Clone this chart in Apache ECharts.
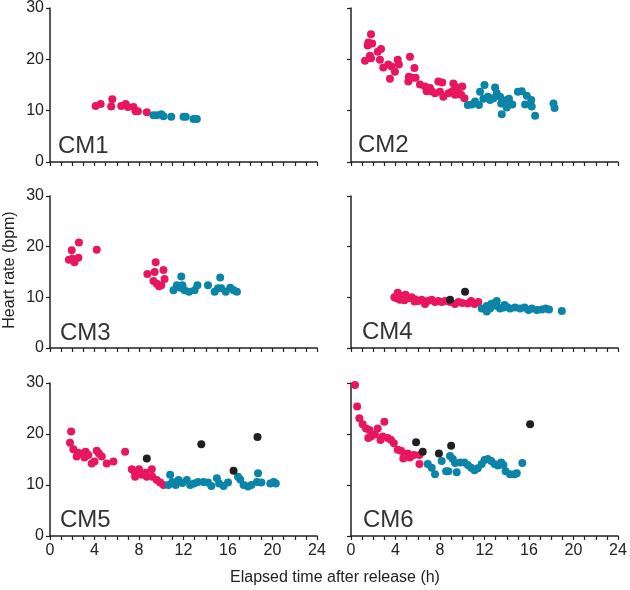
<!DOCTYPE html>
<html>
<head>
<meta charset="utf-8">
<script src="https://cdn.jsdelivr.net/npm/echarts@6/dist/echarts.min.js"></script>
<style>html,body{margin:0;padding:0;background:#fff}#c{width:630px;height:590px}</style>
</head>
<body>
<div id="c"></div>
<script>
// ---------- data ----------
var panelNames = ['CM1', 'CM2', 'CM3', 'CM4', 'CM5', 'CM6'];
var xTicks = [0, 4, 8, 12, 16, 20, 24];
var yTicks = [0, 10, 20, 30];
var xTitle = 'Elapsed time after release (h)';
var yTitle = 'Heart rate (bpm)';

var cm1Pink = [[4.1,10.9],[4.55,11.3],[5.6,12.2],[5.5,10.8],[6.4,10.9],[6.8,11.3],[7.0,10.7],[7.5,10.7],[7.7,9.9],[7.9,9.9],[8.7,9.7]];
var cm1Blue = [[9.3,9.1],[9.6,9.1],[10.0,9.3],[10.2,8.9],[10.9,8.8],[12.0,8.8],[12.2,8.8],[12.9,8.4],[13.2,8.4]];
var cm1Black = [];

var cm2Pink = [[1.8,24.9],[1.56,23.3],[1.9,23.1],[1.5,22.7],[2.7,22.0],[2.4,21.5],[1.7,20.7],[1.26,19.7],[1.8,20.2],[2.6,19.9],[2.9,18.4],[3.35,19.0],[3.65,18.6],[4.2,19.9],[4.3,19.0],[3.95,17.6],[3.5,16.2],[5.3,20.5],[5.7,18.3],[5.2,16.6],[5.5,16.4],[5.8,16.4],[5.15,15.7],[6.2,15.1],[6.65,14.7],[6.8,13.8],[7.25,13.8],[7.85,15.7],[8.2,15.5],[7.55,13.4],[8.0,13.7],[8.3,12.7],[8.75,13.4],[9.2,15.3],[9.35,14.7],[9.65,14.4],[10.0,14.7],[9.05,13.7],[9.35,13.1],[9.9,13.1],[10.2,12.4],[7.1,14.4]];
var cm2Blue = [[10.5,11.1],[10.85,11.2],[11.15,11.8],[11.5,11.1],[11.6,13.7],[12.0,15.0],[11.9,12.3],[12.3,12.7],[12.5,12.1],[12.95,14.5],[13.1,13.4],[12.8,12.4],[13.4,12.7],[13.5,11.4],[14.0,12.1],[14.2,12.3],[13.55,9.3],[14.0,10.6],[14.5,11.2],[15.0,13.7],[15.35,13.8],[15.8,12.9],[15.65,11.2],[16.2,12.1],[16.25,10.8],[16.55,9.0],[18.2,11.4],[18.3,10.5]];
var cm2Black = [];

var cm3Pink = [[1.7,17.4],[2.0,17.6],[2.2,16.9],[2.55,17.8],[1.95,19.3],[2.6,20.8],[4.2,19.4],[8.75,14.6],[9.4,15.0],[9.5,16.9],[10.2,15.4],[9.3,13.2],[9.8,12.2],[10.3,13.6],[9.6,12.7],[10.0,12.4]];
var cm3Blue = [[11.1,11.4],[11.4,12.4],[11.8,14.1],[11.9,12.4],[12.1,11.4],[12.5,11.1],[13.0,11.4],[13.25,12.4],[14.2,12.4],[14.8,11.1],[15.3,13.9],[15.1,11.8],[15.4,11.8],[15.8,11.1],[16.2,11.9],[16.5,11.4],[16.8,11.1],[11.7,11.9]];
var cm3Black = [];

var cm4Pink = [[3.9,10.0],[4.2,10.9],[4.1,9.8],[4.4,9.5],[4.55,10.3],[4.8,9.4],[4.9,10.5],[5.15,9.8],[5.45,10.0],[5.7,9.2],[5.75,9.6],[6.05,9.3],[6.35,9.5],[6.65,8.7],[6.9,9.3],[7.25,9.5],[7.55,9.1],[7.85,9.3],[8.15,9.1],[8.45,9.3],[8.9,9.1],[9.35,8.7],[9.65,9.1],[10.0,8.9],[10.5,8.8],[10.8,9.3],[11.1,8.7],[11.45,9.1]];
var cm4Blue = [[11.75,7.8],[12.2,7.2],[12.2,8.3],[12.5,7.8],[12.6,8.7],[12.9,8.9],[13.1,9.3],[13.1,8.3],[13.4,7.8],[13.7,8.0],[13.8,8.5],[14.0,8.1],[14.3,7.8],[14.75,8.0],[15.2,7.8],[15.6,8.0],[15.95,7.5],[16.25,7.8],[16.7,7.5],[17.15,7.6],[17.5,7.8],[17.8,7.6],[18.95,7.3]];
var cm4Black = [[8.9,9.5],[10.25,11.1]];

var cm5Pink = [[1.9,20.5],[1.8,18.3],[2.1,17.0],[2.5,16.3],[2.4,15.6],[2.85,16.2],[3.2,16.5],[3.1,15.4],[3.45,15.9],[3.75,14.2],[4.0,14.6],[4.2,16.7],[4.4,16.2],[4.65,15.6],[5.1,14.2],[5.7,14.6],[6.75,16.5],[7.35,13.1],[7.65,12.3],[8.0,13.1],[7.65,11.6],[8.25,12.0],[8.6,12.4],[8.7,11.6],[9.15,13.1],[9.2,11.6],[9.6,11.0],[9.9,10.5],[10.2,10.0]];
var cm5Blue = [[10.8,12.0],[10.65,10.0],[11.0,10.6],[11.3,10.0],[11.55,11.0],[11.9,10.4],[12.3,11.0],[12.6,10.0],[12.95,10.3],[13.3,10.6],[13.8,10.6],[14.2,10.5],[14.5,9.8],[15.0,11.3],[15.2,10.3],[15.6,9.8],[16.0,10.5],[16.9,11.6],[17.1,11.1],[17.4,10.0],[17.8,9.7],[18.1,10.0],[18.6,10.6],[18.7,12.3],[19.0,10.5],[19.8,10.3],[20.1,10.6],[20.3,10.3]];
var cm5Black = [[8.7,15.2],[13.6,18.0],[16.5,12.8],[18.65,19.4]];

var cm6Pink = [[0.36,29.6],[0.55,25.4],[0.75,23.1],[1.05,21.9],[1.35,21.1],[1.65,20.8],[1.8,19.5],[1.55,19.2],[2.15,19.9],[2.4,21.1],[3.0,22.4],[2.65,18.8],[2.85,19.5],[3.3,19.2],[3.6,18.8],[3.85,18.2],[4.2,16.9],[4.5,16.7],[4.8,15.9],[5.1,16.2],[5.3,15.4],[5.65,15.9],[6.15,15.9],[6.15,14.1],[4.7,15.2]];
var cm6Blue = [[6.9,14.1],[7.25,13.4],[7.55,12.1],[8.15,14.7],[8.55,12.7],[8.75,12.7],[8.9,15.7],[9.15,15.1],[9.35,14.3],[9.5,12.5],[9.8,14.4],[10.2,14.4],[10.5,13.9],[10.8,13.4],[11.1,12.9],[11.4,13.3],[11.75,14.1],[12.0,14.9],[12.3,15.1],[12.6,14.7],[12.9,14.1],[13.2,13.8],[13.5,14.4],[13.7,13.9],[13.9,12.7],[14.3,12.1],[14.7,12.1],[14.9,12.3],[15.4,14.3]];
var cm6Black = [[5.85,18.4],[6.45,16.5],[7.9,16.2],[9.0,17.7],[16.1,21.9]];

var pinkSets = [cm1Pink, cm2Pink, cm3Pink, cm4Pink, cm5Pink, cm6Pink];
var blueSets = [cm1Blue, cm2Blue, cm3Blue, cm4Blue, cm5Blue, cm6Blue];
var blackSets = [cm1Black, cm2Black, cm3Black, cm4Black, cm5Black, cm6Black];

// ---------- layout ----------
var FONT = 'Liberation Sans, Arial, sans-serif';
var INK = '#222222';
var colLeft = [50, 351];
var rowTop = [8, 196, 383];
var rowH = [154, 152, 153];
var W = 267;
var labelPos = [[58,146],[358,145],[60,333],[362,332],[60,520],[363,520]];

var grids = [], xAxes = [], yAxes = [], series = [], graphics = [];
for (var i = 0; i < 6; i++) {
  var r = Math.floor(i / 2), c = i % 2;
  grids.push({left: colLeft[c], top: rowTop[r], width: W, height: rowH[r], containLabel: false});
  xAxes.push({
    type: 'value', gridIndex: i, min: 0, max: 24, interval: 1,
    axisLine: {onZero: false, lineStyle: {color: INK, width: 1.5}},
    axisTick: {show: true, length: 4, lineStyle: {color: INK, width: 1.2}},
    splitLine: {show: false},
    axisLabel: {show: r === 2, margin: 7, fontSize: 16, color: INK, fontFamily: FONT,
      formatter: function (v) { return xTicks.indexOf(v) >= 0 ? String(v) : ''; }}
  });
  yAxes.push({
    type: 'value', gridIndex: i, min: 0, max: 30, interval: 10,
    axisLine: {show: true, lineStyle: {color: INK, width: 1.5}},
    axisTick: {show: true, length: 4, lineStyle: {color: INK, width: 1.2}},
    splitLine: {show: false},
    axisLabel: {show: c === 0, margin: 6, fontSize: 16, color: INK, fontFamily: FONT,
      formatter: function (v) { return yTicks.indexOf(v) >= 0 ? String(v) : ''; }}
  });
  var sets = [[pinkSets[i], '#e8175d'], [blueSets[i], '#0b84a8'], [blackSets[i], '#231f20']];
  sets.forEach(function (s) {
    series.push({type: 'scatter', xAxisIndex: i, yAxisIndex: i, data: s[0], symbolSize: 8,
      itemStyle: {color: s[1], opacity: 1}, silent: true, animation: false});
  });
  graphics.push({type: 'text', x: labelPos[i][0], y: labelPos[i][1],
    style: {text: panelNames[i], fontSize: 24, fontFamily: FONT, fill: '#333',
      align: 'left', verticalAlign: 'middle', textAlign: 'left', textVerticalAlign: 'middle'}});
}
graphics.push({type: 'text', x: 335, y: 578,
  style: {text: xTitle, fontSize: 16, fontFamily: FONT, fill: INK,
    align: 'center', verticalAlign: 'middle', textAlign: 'center', textVerticalAlign: 'middle'}});
graphics.push({type: 'text', x: 10, y: 270, rotation: Math.PI / 2,
  style: {text: yTitle, fontSize: 16, fontFamily: FONT, fill: INK,
    align: 'center', verticalAlign: 'middle', textAlign: 'center', textVerticalAlign: 'middle'}});

var chart = echarts.init(document.getElementById('c'), null, {renderer: 'canvas'});
chart.setOption({
  animation: false,
  grid: grids, xAxis: xAxes, yAxis: yAxes, series: series, graphic: graphics
});
</script>
</body>
</html>
